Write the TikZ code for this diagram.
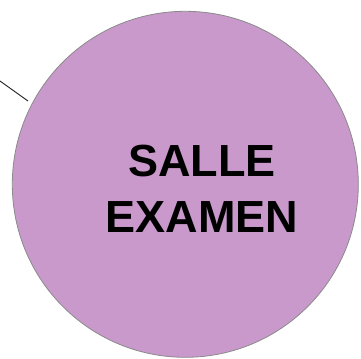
\documentclass[tikz,border=0pt]{standalone}
\usepackage{fontspec}
\setmainfont{Liberation Sans}
\definecolor{roomfill}{HTML}{C999CC}
\definecolor{roomedge}{HTML}{8A8A8A}

\begin{document}
\begin{tikzpicture}[x=0.75pt,y=-0.75pt,line width=0.6pt]
\useasboundingbox (0,0) rectangle (361,358);
% ---- room disc ----
\node[circle,fill=roomfill,draw=roomedge,minimum size=346*0.75pt,inner sep=0pt]
  (salle) at (185.3,184.3) {};
% ---- room name ----
\node[font=\fontsize{33.75}{42}\selectfont\bfseries,align=center,inner sep=0pt]
  (salletext) at (202,189) {SALLE\\EXAMEN};
% ---- leader line from the left edge ----
\coordinate (leadA) at (0,81);
\coordinate (leadB) at (28,101);
\draw[black!85,line width=0.7pt] (leadA) -- (leadB);
\end{tikzpicture}
\end{document}
